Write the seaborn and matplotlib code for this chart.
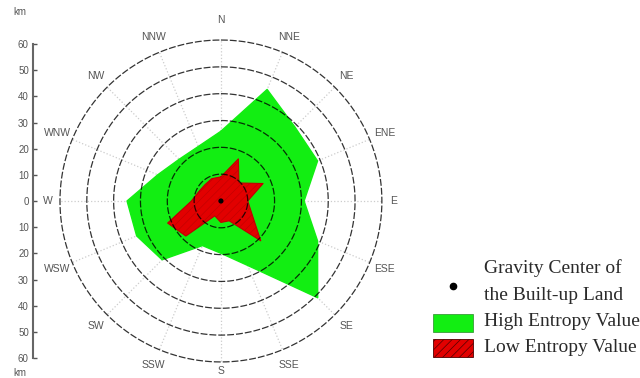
import numpy as np
import matplotlib
matplotlib.use("Agg")
import matplotlib.pyplot as plt
from matplotlib.patches import Rectangle
import seaborn as sns

# Sixteen compass sectors, clockwise from north
directions = ["N", "NNE", "NE", "ENE", "E", "ESE", "SE", "SSE",
              "S", "SSW", "SW", "WSW", "W", "WNW", "NW", "NNW"]

# Expansion distance (km) of each sector
high_entropy_km = [26, 45, 39, 39, 31, 39, 51, 26,
                   19.5, 18, 31, 34, 35, 25.5, 22, 22]
low_entropy_km = [9, 17, 9.5, 17, 10, 12.5, 21, 8,
                  8, 6, 18.5, 21.5, 11, 9, 8.5, 9]

ring_km = [10, 20, 30, 40, 50, 60]
ruler_ticks = [-60, -50, -40, -30, -20, -10, 0, 10, 20, 30, 40, 50, 60]

GREEN = "#12ee12"
RED = "#e20000"

sns.set_theme(style="white")
plt.rcParams["font.family"] = ["Liberation Sans", "DejaVu Sans"]
plt.rcParams["hatch.linewidth"] = 0.5

fig = plt.figure(figsize=(6.4, 3.78), dpi=100)
fig.patch.set_facecolor("white")

# ---- polar rose ----
ax = fig.add_axes([0.0937, 0.0423, 0.503, 0.852], projection="polar")
ax.set_theta_zero_location("N")
ax.set_theta_direction(-1)
ax.set_ylim(0, 60)
ax.grid(False)
ax.set_xticks([])
ax.set_yticks([])
ax.spines["polar"].set_visible(False)
ax.patch.set_alpha(0)

theta = np.deg2rad(np.arange(len(directions)) * 22.5)
theta_c = np.append(theta, theta[0])
high_c = np.append(high_entropy_km, high_entropy_km[0])
low_c = np.append(low_entropy_km, low_entropy_km[0])

# radial guide lines sit beneath the filled areas
for t in theta:
    ax.plot([t, t], [0, 60], color="#cccccc", ls=":", lw=0.9, zorder=1)

ax.fill(theta_c, high_c, color=GREEN, zorder=2, lw=0)
sns.lineplot(x=theta_c, y=high_c, sort=False, estimator=None, ax=ax,
             color=GREEN, lw=1, zorder=2)
ax.fill(theta_c, low_c, facecolor=RED, edgecolor="#c40000", hatch="////",
        lw=0, zorder=3)
sns.lineplot(x=theta_c, y=low_c, sort=False, estimator=None, ax=ax,
             color="#c00000", lw=0.8, zorder=3)

# dashed distance rings
ring_t = np.linspace(0, 2 * np.pi, 721)
for r in ring_km:
    ax.plot(ring_t, np.full_like(ring_t, r), color="black", alpha=0.8,
            ls=(0, (5.5, 1.6)), lw=0.9, zorder=5, clip_on=False)

# compass labels
label_r = {"N": 67.5, "S": 63.3, "E": 64.5, "W": 64.5}
for t, name in zip(theta, directions):
    ax.text(t, label_r.get(name, 66), name, ha="center", va="center",
            fontsize=7.5, color="#555555", clip_on=False)

# gravity centre
sns.scatterplot(x=[0], y=[0], ax=ax, color="black", s=14, zorder=6,
                edgecolor="none", legend=False)
ax.set_xlabel("")
ax.set_ylabel("")

# ---- distance ruler ----
rax = fig.add_axes([0.0516, 0.0529, 0.0001, 0.8307])
rax.set_ylim(-60, 60)
rax.set_xticks([])
rax.set_yticks(ruler_ticks)
rax.set_yticklabels([str(abs(v)) for v in ruler_ticks])
rax.tick_params(axis="y", direction="in", length=3, width=1, colors="#555555",
                labelsize=7, pad=3, left=True)
for side in ["top", "right", "bottom"]:
    rax.spines[side].set_visible(False)
rax.spines["left"].set_color("#666666")
rax.spines["left"].set_linewidth(1.5)
rax.patch.set_alpha(0)
fig.text(20 / 640, 1 - 12 / 378, "km", fontsize=7, color="#555555",
         ha="center", va="center")
fig.text(20 / 640, 1 - 373 / 378, "km", fontsize=7, color="#555555",
         ha="center", va="center")

# ---- key ----
def fx(px):
    return px / 640

def fy(py):
    return 1 - py / 378

fig.add_artist(plt.Line2D([fx(453)], [fy(286)], marker="o", color="black",
                          markersize=4.5, transform=fig.transFigure))
fig.add_artist(Rectangle((fx(433), fy(332)), fx(40), 18 / 378,
                         transform=fig.transFigure, facecolor=GREEN,
                         edgecolor="#2a8a2a", lw=0.5))
fig.add_artist(Rectangle((fx(433), fy(357)), fx(40), 18 / 378,
                         transform=fig.transFigure, facecolor=RED,
                         edgecolor="#500000", hatch="////", lw=0.6))
key_font = dict(family=["Liberation Serif", "DejaVu Serif"], fontsize=14,
                color="#2a2a2a", ha="left", va="center")
fig.text(fx(484), fy(268), "Gravity Center of", **key_font)
fig.text(fx(484), fy(296), "the Built-up Land", **key_font)
fig.text(fx(484), fy(322), "High Entropy Value", **key_font)
fig.text(fx(484), fy(348), "Low Entropy Value", **key_font)

fig.savefig("out.png", dpi=100, facecolor="white")
